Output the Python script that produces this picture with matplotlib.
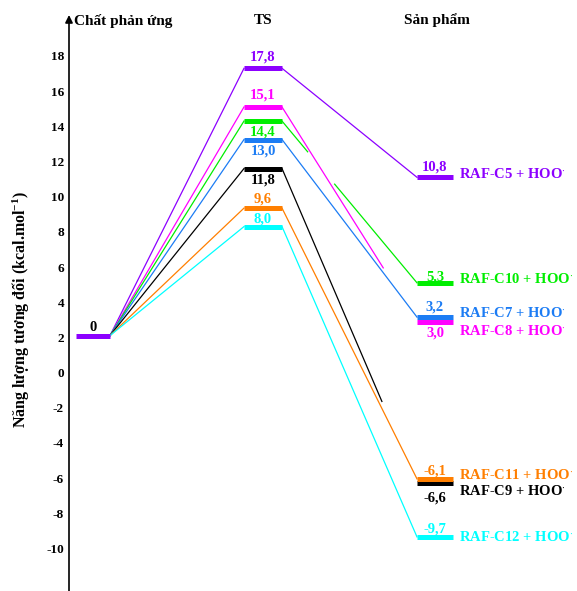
import matplotlib
matplotlib.use("Agg")
import matplotlib.pyplot as plt

# ---------------- data ----------------
series = ["C5", "C8", "C10", "C7", "C9", "C11", "C12"]
colors = ["#8C00FF", "#FF00FF", "#00EE00", "#1C7CF4", "#000000", "#FF7F00", "#00FFFF"]
ts_energy = [17.8, 15.1, 14.4, 13.0, 11.8, 9.6, 8.0]          # labels
product_energy = [10.8, 3.0, 5.3, 3.2, -6.6, -6.1, -9.7]      # labels
ts_level = [17.3, 15.1, 14.3, 13.25, 11.6, 9.35, 8.3]        # drawn level
product_level = [11.1, 2.9, 5.1, 3.15, -6.3, -6.05, -9.35]   # drawn level
product_names = ["RAF-C5 + HOO$^{\\cdot}$", "RAF-C8 + HOO$^{\\cdot}$", "RAF-C10 + HOO$^{\\cdot}$",
                 "RAF-C7 + HOO$^{\\cdot}$", "RAF-C9 + HOO$^{\\cdot}$", "RAF-C11 + HOO$^{\\cdot}$",
                 "RAF-C12 + HOO$^{\\cdot}$"]
reactant_energy = 0
reactant_level = 2.1
stage_names = ["Chất phản ứng", "TS", "Sản phẩm"]
yticks = list(range(-10, 19, 2))
ylabel = "Năng lượng tương đối (kcal.mol$^{-1}$)"

# ---------------- layout / style ----------------
W, H = 577, 591
FONT = "Liberation Serif"
plt.rcParams["font.family"] = [FONT, "DejaVu Serif"]
plt.rcParams["font.weight"] = "bold"
plt.rcParams["mathtext.fontset"] = "custom"
plt.rcParams["mathtext.rm"] = FONT + ":bold"
plt.rcParams["mathtext.bf"] = FONT + ":bold"
plt.rcParams["mathtext.default"] = "bf"

fig = plt.figure(figsize=(W / 100, H / 100), dpi=100)
ax = fig.add_axes([69 / W, 0, 508 / W, 576 / H])
ax.set_xlim(0, 508)
ax.set_ylim(-12.425, 20.331)

x_r, x_ts, x_p = 24, 194, 366
hw_r, hw_ts, hw_p = 17, 19, 18
bar_lw = 3.6
line_lw = 0.9

# visible fraction segments of the TS->product connector
ts_prod_segments = {
    "C8": [(0.0, 0.75)],
    "C9": [(0.0, 0.74)],
    "C10": [(0.0, 0.19), (0.39, 1.0)],
}

for s, c, tl, pl in zip(series, colors, ts_level, product_level):
    # reactant -> TS
    ax.plot([x_r + hw_r, x_ts - hw_ts], [reactant_level, tl], color=c, lw=line_lw, zorder=2)
    x0, y0, x1, y1 = x_ts + hw_ts, tl, x_p - hw_p, pl
    for f0, f1 in ts_prod_segments.get(s, [(0.0, 1.0)]):
        ax.plot([x0 + f0 * (x1 - x0), x0 + f1 * (x1 - x0)],
                [y0 + f0 * (y1 - y0), y0 + f1 * (y1 - y0)],
                color=c, lw=line_lw, zorder=2)

# bars (drawn in order so C7 over C8, C11 over C9)
bar_order = ["C5", "C8", "C10", "C7", "C9", "C11", "C12"]
for s in bar_order:
    i = series.index(s)
    c = colors[i]
    ax.plot([x_ts - hw_ts, x_ts + hw_ts], [ts_level[i]] * 2, color=c, lw=bar_lw,
            solid_capstyle="butt", zorder=3)
    ax.plot([x_p - hw_p, x_p + hw_p], [product_level[i]] * 2, color=c, lw=bar_lw,
            solid_capstyle="butt", zorder=3)
ax.plot([x_r - hw_r, x_r + hw_r], [reactant_level] * 2, color=colors[0], lw=bar_lw,
        solid_capstyle="butt", zorder=3)


def fmt(v):
    return f"{v:.1f}".replace(".", ",") if v != 0 else "0"


VAL_FS = 10.5
NAME_FS = 10.5


def lab(x, y, text, color, up_px, fs, ha="center"):
    size_px = fs * 100 / 72
    off_pts = (up_px - 0.331 * size_px) * 0.72
    ax.annotate(text, xy=(x, y), xycoords="data", xytext=(0, off_pts),
                textcoords="offset points", ha=ha, va="baseline", color=color,
                fontsize=fs, fontweight="bold", annotation_clip=False)


ts_off = {"C5": 13, "C8": 13.5, "C10": -9.5, "C7": -10, "C9": -10, "C11": 10, "C12": 8.5}
p_off = {"C5": 12, "C8": -9.7, "C10": 7, "C7": 11.5, "C9": -13.4, "C11": 9.3, "C12": 9}
name_off = {"C5": 4.3, "C8": -9, "C10": 5, "C7": 5, "C9": -6.7, "C11": 4.3, "C12": 0.7}

for i, s in enumerate(series):
    c = colors[i]
    lab(x_ts, ts_level[i], fmt(ts_energy[i]), c, ts_off[s], VAL_FS)
    lab(x_p, product_level[i], fmt(product_energy[i]), c, p_off[s], VAL_FS)
    ax.annotate(product_names[i], xy=(x_p + hw_p, product_level[i]), xycoords="data",
                xytext=((459 - 453) * 0.72, (name_off[s] - 0.331 * NAME_FS * 100 / 72) * 0.72),
                textcoords="offset points", ha="left", va="baseline", color=c,
                fontsize=NAME_FS, fontweight="bold", annotation_clip=False)

lab(x_r, reactant_level, fmt(reactant_energy), "black", 9.3, VAL_FS)

# axes styling
for sp in ["top", "right", "bottom", "left"]:
    ax.spines[sp].set_visible(False)
ax.set_xticks([])
ax.set_yticks(yticks)
ax.set_yticklabels([str(t) for t in yticks], fontsize=9.5, fontweight="bold")
ax.tick_params(axis="y", length=0, pad=3.6)
ax.annotate("", xy=(0, 1), xytext=(0, 0), xycoords="axes fraction",
            arrowprops=dict(arrowstyle="-|>", lw=1.2, color="black", mutation_scale=11,
                            shrinkA=0, shrinkB=0), annotation_clip=False)

# headers
fig.text(74 / W, 1 - 25 / H, stage_names[0], ha="left", va="baseline", fontsize=11,
         fontweight="bold")
fig.text(263 / W, 1 - 24 / H, stage_names[1], ha="center", va="baseline", fontsize=11,
         fontweight="bold")
fig.text(437 / W, 1 - 24 / H, stage_names[2], ha="center", va="baseline", fontsize=11,
         fontweight="bold")

fig.text(21 / W, 1 - 310 / H, ylabel, rotation=90, ha="center", va="center",
         fontsize=11.5, fontweight="bold")

fig.savefig("out.png", dpi=100)
